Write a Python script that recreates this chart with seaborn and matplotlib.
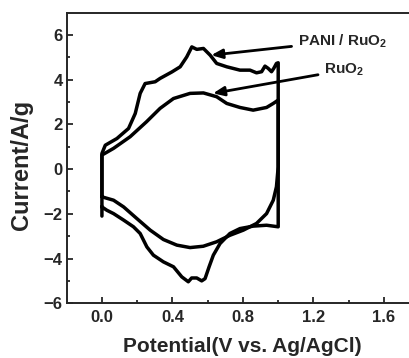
import matplotlib
matplotlib.use("Agg")
import matplotlib.pyplot as plt
import seaborn as sns
import pandas as pd

# PANI / RuO2 loop (anodic sweep then cathodic sweep), V vs Ag/AgCl, A/g
pani_up_v = [0.0, 0.0, 0.019, 0.085, 0.151, 0.189, 0.217, 0.245, 0.302, 0.33, 0.397,
             0.444, 0.481, 0.51, 0.538, 0.576, 0.614, 0.651, 0.708, 0.783, 0.84,
             0.877, 0.906, 0.925, 0.943, 0.962, 0.975, 0.99, 1.0]
pani_up_i = [-2.1, 0.7, 1.07, 1.37, 1.82, 2.49, 3.39, 3.83, 3.91, 4.06, 4.35,
             4.58, 5.02, 5.47, 5.36, 5.40, 5.1, 4.73, 4.58, 4.43, 4.43,
             4.31, 4.36, 4.61, 4.51, 4.36, 4.51, 4.73, 4.76]
pani_dn_v = [1.0, 0.934, 0.858, 0.783, 0.726, 0.67, 0.632, 0.608, 0.585, 0.566,
             0.538, 0.509, 0.49, 0.453, 0.406, 0.349, 0.292, 0.255, 0.217, 0.179,
             0.123, 0.066, 0.028, 0.0]
pani_dn_i = [-2.58, -2.51, -2.55, -2.66, -2.88, -3.33, -3.85, -4.37, -4.9, -5.0,
             -4.87, -4.87, -5.04, -4.82, -4.37, -4.15, -3.85, -3.48, -2.88, -2.58,
             -2.28, -1.99, -1.84, -1.69]

# RuO2 loop
ruo2_up_v = [0.0, 0.0, 0.066, 0.16, 0.253, 0.33, 0.406, 0.5, 0.576, 0.651, 0.708,
             0.783, 0.858, 0.934, 0.972, 1.0, 1.0]
ruo2_up_i = [-1.24, 0.63, 0.93, 1.45, 2.12, 2.72, 3.16, 3.39, 3.41, 3.24, 2.94,
             2.76, 2.64, 2.76, 2.94, 3.09, 0.1]
ruo2_dn_v = [1.0, 0.99, 0.972, 0.934, 0.877, 0.802, 0.726, 0.651, 0.575, 0.5,
             0.425, 0.349, 0.274, 0.198, 0.123, 0.066, 0.0]
ruo2_dn_i = [0.1, -0.79, -1.39, -1.99, -2.43, -2.73, -2.96, -3.25, -3.45, -3.51,
             -3.4, -3.15, -2.73, -2.21, -1.69, -1.39, -1.24]

labels = ["PANI / RuO$_2$", "RuO$_2$"]
arrow_tips = [(0.62, 5.1), (0.63, 3.39)]
text_pos = [(1.11, 5.74), (1.26, 4.43)]

sns.set_style("ticks")
plt.rcParams["font.family"] = ["Liberation Sans", "DejaVu Sans"]
plt.rcParams["font.weight"] = "bold"
plt.rcParams["mathtext.fontset"] = "custom"
plt.rcParams["mathtext.rm"] = "Liberation Sans:bold"
plt.rcParams["mathtext.default"] = "rm"

pani = pd.DataFrame({"v": pani_up_v + pani_dn_v, "i": pani_up_i + pani_dn_i})
ruo2 = pd.DataFrame({"v": ruo2_up_v + ruo2_dn_v, "i": ruo2_up_i + ruo2_dn_i})

fig = plt.figure(figsize=(4.09, 3.58), dpi=100)
ax = fig.add_axes([0.163, 0.153, 0.862, 0.8115])

sns.lineplot(data=pani, x="v", y="i", sort=False, estimator=None, color="black", lw=2.5, ax=ax)
sns.lineplot(data=ruo2, x="v", y="i", sort=False, estimator=None, color="black", lw=2.5, ax=ax)

ax.set_xlim(-0.2, 1.8)
ax.set_ylim(-6, 7)
ax.set_xticks([0.0, 0.4, 0.8, 1.2, 1.6])
ax.set_xticks([0.2, 0.6, 1.0, 1.4], minor=True)
ax.set_yticks([-6, -4, -2, 0, 2, 4, 6])
ax.set_yticks([-5, -3, -1, 1, 3, 5], minor=True)
ax.set_xticklabels(["0.0", "0.4", "0.8", "1.2", "1.6"])
ax.tick_params(which="both", direction="in", width=1.3, labelsize=12)
ax.tick_params(which="major", length=4)
ax.tick_params(which="minor", length=2.5)
ax.tick_params(axis="x", pad=5)
ax.tick_params(axis="y", pad=3)
for lab in ax.get_xticklabels() + ax.get_yticklabels():
    lab.set_fontweight("bold")

for s in ["left", "bottom", "top"]:
    ax.spines[s].set_linewidth(1.4)
ax.spines["right"].set_visible(False)

ax.set_xlabel("Potential(V vs. Ag/AgCl)", fontsize=15, fontweight="bold")
ax.set_ylabel("Current/A/g", fontsize=17, fontweight="bold")
ax.xaxis.set_label_coords(0.497, -0.116)
ax.yaxis.set_label_coords(-0.096, 0.476)

for lab, tip, pos in zip(labels, arrow_tips, text_pos):
    ax.annotate(lab, xy=tip, xytext=pos, fontsize=11, fontweight="bold",
                ha="left", va="center",
                arrowprops=dict(arrowstyle="-|>,head_length=0.6,head_width=0.25",
                                color="black", lw=2, shrinkA=2, shrinkB=0))

fig.savefig("out.png", dpi=100)
